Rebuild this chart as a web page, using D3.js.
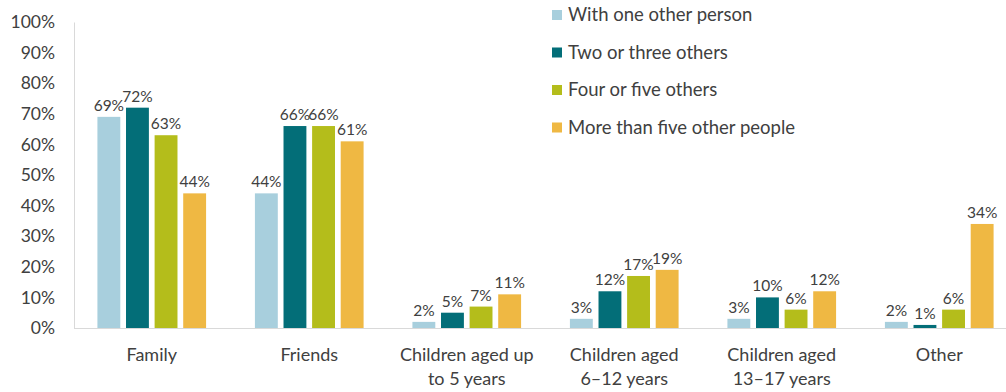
<!DOCTYPE html>
<html><head><meta charset="utf-8">
<script src="https://cdn.jsdelivr.net/npm/d3@7"></script>
<style>body{margin:0;background:#fff}svg{display:block}text{font-family:Lato,"Noto Sans",sans-serif;fill:#404040}</style>
</head><body><svg id="c" width="1006" height="392"></svg>
<script>
const categories = [["Family"],["Friends"],["Children aged up","to 5 years"],["Children aged","6\u201312 years"],["Children aged","13\u201317 years"],["Other"]];
const seriesNames = ["With one other person","Two or three others","Four or five others","More than five other people"];
const colors = ["#a8cfdd","#036e78","#b4bd1b","#efb843"];
const withOne = [69,44,2,3,3,2];
const twoThree = [72,66,5,12,10,1];
const fourFive = [63,66,7,17,6,6];
const moreFive = [44,61,11,19,12,34];
const tickValues = [0,10,20,30,40,50,60,70,80,90,100];
const series = [withOne,twoThree,fourFive,moreFive];

const svg = d3.select("#c");
const y = d3.scaleLinear().domain([0,100]).range([328,22]);
const x0 = d3.scaleBand().domain(d3.range(categories.length)).range([73,1018]).paddingInner(0.31).paddingOuter(0.155);
const x1 = d3.scaleBand().domain(d3.range(series.length)).range([0,x0.bandwidth()]).paddingInner(0.2);

// y axis labels
const ya = svg.append("g").attr("transform","translate(74,0)")
  .call(d3.axisLeft(y).tickValues(tickValues).tickSize(0).tickPadding(19).tickFormat(d=>d+"%"));
ya.select(".domain").attr("stroke","#d9d9d9");
ya.selectAll("text").style("font-size","17.5px").attr("fill","#404040");

// x axis
const xa = svg.append("g").attr("transform","translate(0,328)")
  .call(d3.axisBottom(x0).tickSize(0).tickFormat(""));
xa.select(".domain").attr("stroke","#d9d9d9").attr("d","M74,0.5H1006");

const g = svg.append("g");
categories.forEach((cat,i)=>{
  const gx = x0(i);
  series.forEach((s,j)=>{
    const v = s[i];
    g.append("rect").attr("x",gx+x1(j)).attr("width",x1.bandwidth())
      .attr("y",y(v)).attr("height",y(0)-y(v)).attr("fill",colors[j]);
    g.append("text").attr("x",gx+x1(j)+x1.bandwidth()/2).attr("y",y(v)-6)
      .attr("text-anchor","middle").style("font-size","15.5px").text(v+"%");
  });
  const t = svg.append("text").attr("text-anchor","middle").style("font-size","18px");
  cat.forEach((line,k)=>{
    t.append("tspan").attr("x",gx+x0.bandwidth()/2).attr("y",361+k*24).text(line);
  });
});

// legend
const lg = svg.append("g");
seriesNames.forEach((n,j)=>{
  const ly = 15 + j*37.5;
  lg.append("rect").attr("x",552).attr("y",ly-5).attr("width",10).attr("height",10).attr("fill",colors[j]);
  lg.append("text").attr("x",568).attr("y",ly+6).style("font-size","18.5px").text(n);
});
</script></body></html>
